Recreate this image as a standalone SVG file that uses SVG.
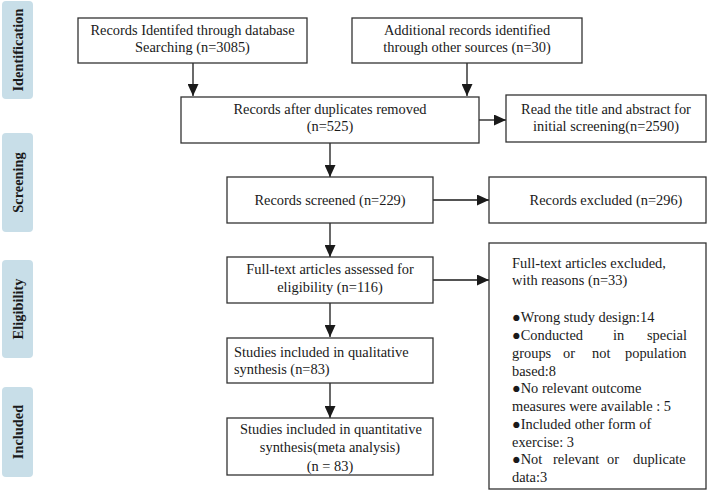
<svg xmlns="http://www.w3.org/2000/svg" width="709" height="491" viewBox="0 0 709 491">
<style>
.box{fill:#fff;stroke:#333;stroke-width:1.3}
.lbl{fill:#c8dee8}
.t{font-family:"Liberation Serif","Times New Roman",serif;font-size:14.4px;fill:#1a1a1a}
.c{text-anchor:middle}
.e{text-anchor:end}
.lt{font-family:"Liberation Serif","Times New Roman",serif;font-size:14.4px;font-weight:bold;fill:#1a1a1a;text-anchor:middle}
.ln{stroke:#1a1a1a;stroke-width:1.3;fill:none;marker-end:url(#ah)}
</style>
<defs>
<marker id="ah" markerUnits="userSpaceOnUse" markerWidth="12" markerHeight="11" refX="12" refY="5.5" orient="auto">
<path d="M0,0 L12,5.5 L0,11 z" fill="#1a1a1a"/>
</marker>
</defs>
<rect width="709" height="491" fill="#fff"/>
<g id="label-identification"><rect class="lbl" x="2" y="1" width="31" height="98" rx="4"/><text class="lt" transform="translate(22.5,50) rotate(-90)">Identification</text></g>
<g id="label-screening"><rect class="lbl" x="2" y="133" width="31" height="99" rx="4"/><text class="lt" transform="translate(22.5,182.5) rotate(-90)">Screening</text></g>
<g id="label-eligibility"><rect class="lbl" x="2" y="260" width="31" height="98" rx="4"/><text class="lt" transform="translate(22.5,309) rotate(-90)">Eligibility</text></g>
<g id="label-included"><rect class="lbl" x="2" y="387" width="31" height="90" rx="4"/><text class="lt" transform="translate(22.5,432) rotate(-90)">Included</text></g>

<g id="connectors">
<line class="ln" x1="193" y1="63" x2="193" y2="96"/>
<line class="ln" x1="467" y1="63" x2="467" y2="96"/>
<line class="ln" x1="479" y1="120" x2="506" y2="120"/>
<line class="ln" x1="330" y1="143" x2="330" y2="177"/>
<line class="ln" x1="433" y1="200" x2="489" y2="200"/>
<line class="ln" x1="330" y1="223" x2="330" y2="257"/>
<line class="ln" x1="433" y1="280" x2="489" y2="280"/>
<line class="ln" x1="330" y1="303" x2="330" y2="337"/>
<line class="ln" x1="330" y1="383" x2="330" y2="418"/>
</g>

<g id="db-records"><rect class="box" x="78" y="18" width="229" height="45"/>
<text class="t c" x="192.5" y="35">Records Identifed through database</text>
<text class="t c" x="192.5" y="52">Searching (n=3085)</text></g>
<g id="other-records"><rect class="box" x="352" y="18" width="230" height="45"/>
<text class="t c" x="467" y="35">Additional records identified</text>
<text class="t c" x="467" y="52">through other sources (n=30)</text></g>
<g id="after-duplicates"><rect class="box" x="181" y="97" width="298" height="46"/>
<text class="t c" x="330" y="114">Records after duplicates removed</text>
<text class="t c" x="330" y="131">(n=525)</text></g>
<g id="read-title"><rect class="box" x="506" y="95" width="200" height="47"/>
<text class="t c" x="606" y="114">Read the title and abstract for</text>
<text class="t c" x="606" y="131">initial screening(n=2590)</text></g>
<g id="screened"><rect class="box" x="227" y="177" width="206" height="46"/>
<text class="t c" x="330" y="205">Records screened (n=229)</text></g>
<g id="excluded"><rect class="box" x="489" y="177" width="217" height="46"/>
<text class="t c" x="606" y="205">Records excluded (n=296)</text></g>
<g id="full-text"><rect class="box" x="227" y="257" width="206" height="46"/>
<text class="t c" x="330" y="274">Full-text articles assessed for</text>
<text class="t c" x="330" y="292">eligibility (n=116)</text></g>
<g id="full-text-excluded"><rect class="box" x="489" y="243" width="217" height="246"/>
<text class="t" x="512" y="268">Full-text articles excluded,</text>
<text class="t" x="512" y="285">with reasons (n=33)</text>
<text class="t" x="512" y="322">●Wrong study design:14</text>
<text class="t" y="340"><tspan x="512">●Conducted</tspan><tspan x="613">in</tspan><tspan x="647">special</tspan></text>
<text class="t" y="358"><tspan x="512">groups</tspan><tspan x="563">or</tspan><tspan x="592">not</tspan><tspan x="625">population</tspan></text>
<text class="t" x="512" y="376">based:8</text>
<text class="t" x="512" y="393">●No relevant outcome</text>
<text class="t" x="512" y="411">measures were available : 5</text>
<text class="t" x="512" y="429">●Included other form of</text>
<text class="t" x="512" y="447">exercise: 3</text>
<text class="t" y="464"><tspan x="512">●Not</tspan><tspan x="553">relevant</tspan><tspan x="607">or</tspan><tspan x="633">duplicate</tspan></text>
<text class="t" x="512" y="482">data:3</text></g>
<g id="qualitative"><rect class="box" x="227" y="338" width="206" height="45"/>
<text class="t" x="234" y="357">Studies included in qualitative</text>
<text class="t" x="234" y="374">synthesis (n=83)</text></g>
<g id="quantitative"><rect class="box" x="227" y="418" width="206" height="57"/>
<text class="t c" x="331" y="434">Studies included in quantitative</text>
<text class="t c" x="330" y="452">synthesis(meta analysis)</text>
<text class="t c" x="330" y="471">(n = 83)</text></g>
</svg>
